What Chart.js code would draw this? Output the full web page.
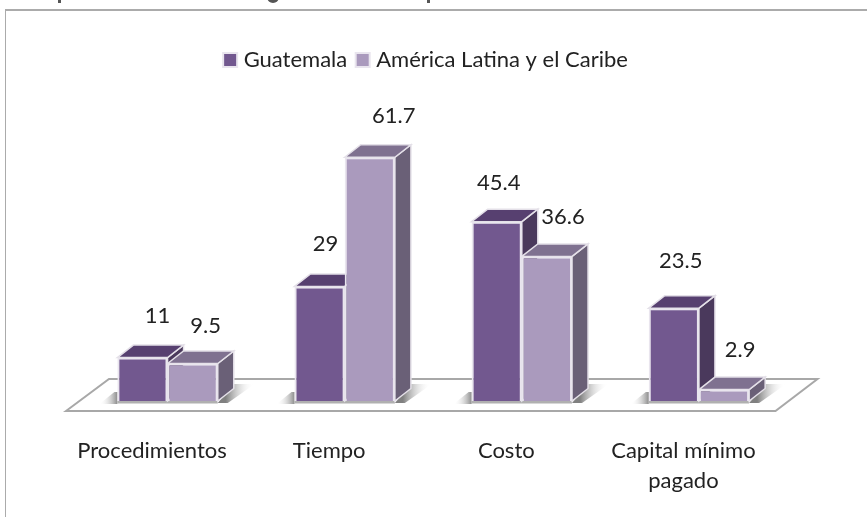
<!DOCTYPE html>
<html lang="es">
<head>
<meta charset="utf-8">
<style>
html,body{margin:0;padding:0;background:#fff;overflow:hidden}
#wrap{position:relative;width:867px;height:517px}
canvas{position:absolute;left:0;top:0}
</style>
<script src="https://cdn.jsdelivr.net/npm/chart.js@4"></script>
</head>
<body>
<div id="wrap"><canvas id="c" width="867" height="517"></canvas></div>
<script>
const categories = ["Procedimientos", "Tiempo", "Costo", ["Capital mínimo", "pagado"]];
const guatemala = [11, 29, 45.4, 23.5];
const latam = [9.5, 61.7, 36.6, 2.9];
const seriesNames = ["Guatemala", "América Latina y el Caribe"];

const FONT = "Lato, 'Open Sans', sans-serif";
const DX = 16, DY = -12.5;
const faces = [
  {top:"#574070", side:"#4a395c"},
  {top:"#7f7190", side:"#6a6077"}
];
const labelNudge = [
  [[15,-42],[6,-43],[2,-39],[7,-47]],
  [[13,-38],[24,-41],[16,-40],[16,-40]]
];

function poly(ctx, pts, fill, stroke, lw){
  ctx.beginPath();
  pts.forEach((p,i)=> i ? ctx.lineTo(p[0],p[1]) : ctx.moveTo(p[0],p[1]));
  ctx.closePath();
  if(fill){ctx.fillStyle=fill;ctx.fill();}
  if(stroke){ctx.strokeStyle=stroke;ctx.lineWidth=lw||1;ctx.stroke();}
}

const scene = {
  id:"scene",
  afterLayout(chart){
    chart.legend.left -= 5.5;
    chart.legend.right -= 5.5;
  },
  beforeDatasetsDraw(chart){
    const ctx = chart.ctx, a = chart.chartArea, base = chart.scales.y.getPixelForValue(0);
    ctx.save();
    // frame
    ctx.strokeStyle="#ababab"; ctx.lineWidth=2;
    ctx.beginPath(); ctx.moveTo(867,10); ctx.lineTo(5,10); ctx.stroke();
    ctx.lineWidth=1;
    ctx.beginPath(); ctx.moveTo(5.5,10); ctx.lineTo(5.5,517); ctx.stroke();
    // remains of the cropped heading above the frame
    ctx.fillStyle="#555";
    ctx.fillRect(58,0,3,3); ctx.fillRect(427,0,3,3);
    ctx.beginPath(); ctx.arc(273,-3,6,0,Math.PI); ctx.fill();
    // floor
    ctx.lineJoin="miter";
    poly(ctx,[[a.left-13,base+10],[a.left+30,base-22],[a.right+30,base-22],[a.right-12,base+10]],"#fff","#a8a8a8",2);
    const g0 = chart.getDatasetMeta(0).data, g1 = chart.getDatasetMeta(1).data;
    // shadows
    g0.forEach((b,i)=>{
      const L = b.x-b.width/2, R = g1[i].x+g1[i].width/2;
      let gr = ctx.createLinearGradient(R+8,0,R+36,0);
      gr.addColorStop(0,"#808080"); gr.addColorStop(1,"rgba(255,255,255,0)");
      poly(ctx,[[R,base+2],[R+DX,base-17],[R+37,base-17],[R+10,base+2]],gr);
      gr = ctx.createLinearGradient(L-18,0,L,0);
      gr.addColorStop(0,"rgba(255,255,255,0)"); gr.addColorStop(1,"#8c8c8c");
      poly(ctx,[[L-18,base+3],[L-3,base-9],[L,base-9],[L,base+3]],gr);
      ctx.fillStyle="#b0b0b0";
      ctx.fillRect(L,base,R-L,2.5);
    });
    // side and top faces, first series behind second
    [g0,g1].forEach((bars,s)=>{
      bars.forEach(b=>{
        const l=b.x-b.width/2, r=b.x+b.width/2, t=b.y, bt=b.base;
        poly(ctx,[[r,t],[r+DX,t+DY],[r+DX,bt+DY],[r,bt]],faces[s].side,"#e4e0e8",1.5);
        poly(ctx,[[l,t],[l+DX,t+DY],[r+DX,t+DY],[r,t]],faces[s].top,"#e4e0e8",1.5);
      });
    });
    ctx.restore();
  },
  afterDatasetsDraw(chart){
    const ctx = chart.ctx;
    ctx.save();
    ctx.font = "22px "+FONT;
    ctx.fillStyle="#222";
    ctx.textAlign="center"; ctx.textBaseline="middle";
    [guatemala,latam].forEach((vals,s)=>{
      const bars = chart.getDatasetMeta(s).data;
      vals.forEach((v,i)=>{
        const n = labelNudge[s][i];
        ctx.fillText(String(v), bars[i].x+n[0], bars[i].y+n[1]);
      });
    });
    ctx.restore();
  }
};

new Chart(document.getElementById("c"),{
  type:"bar",
  data:{
    labels:categories,
    datasets:[
      {label:seriesNames[0],data:guatemala,backgroundColor:"#72588f",borderColor:"#e9e5ee",borderWidth:2},
      {label:seriesNames[1],data:latam,backgroundColor:"#aa9abd",borderColor:"#e9e5ee",borderWidth:2}
    ]
  },
  options:{
    responsive:false,
    animation:false,
    events:[],
    layout:{padding:{left:79,right:79.5,top:36,bottom:14}},
    datasets:{bar:{barPercentage:1,categoryPercentage:0.567}},
    plugins:{
      tooltip:{enabled:false},
      legend:{
        display:true,position:"top",align:"center",
        labels:{
          usePointStyle:true,pointStyle:"rect",
          boxWidth:5,boxHeight:14,padding:13,
          color:"#222",font:{family:FONT,size:22}
        }
      }
    },
    scales:{
      x:{
        grid:{display:false},
        border:{display:false},
        afterFit(s){s.height=102;},
        ticks:{color:"#222",font:{family:FONT,size:22,lineHeight:1.36},labelOffset:-15.5,padding:27,maxRotation:0,autoSkip:false}
      },
      y:{display:false,min:0,max:81}
    }
  },
  plugins:[scene]
});
</script>
</body>
</html>
